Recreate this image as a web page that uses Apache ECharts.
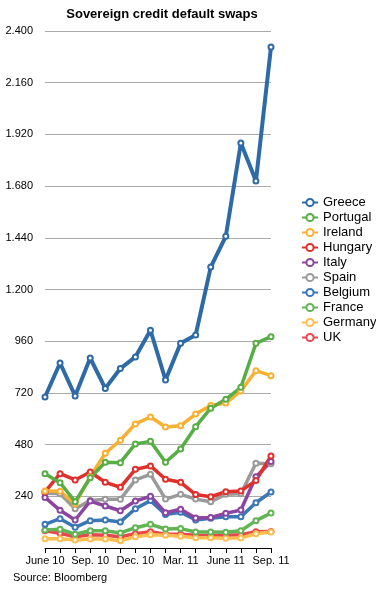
<!DOCTYPE html>
<html>
<head>
<meta charset="utf-8">
<script src="https://cdn.jsdelivr.net/npm/echarts@6/dist/echarts.min.js"></script>
<style>
  html, body { margin: 0; padding: 0; background: #fff; }
  #chart { width: 376px; height: 591px; }
</style>
</head>
<body>
<div id="chart"></div>
<script>
// months June 10 .. Sep. 11
var months = ["June 10", "July 10", "Aug. 10", "Sep. 10", "Oct. 10", "Nov. 10", "Dec. 10", "Jan. 11",
  "Feb. 11", "Mar. 11", "Apr. 11", "May 11", "June 11", "July 11", "Aug. 11", "Sep. 11"];

var greece   = [701, 859, 706, 882, 741, 833, 887, 1011, 780, 950, 989, 1304, 1447, 1880, 1704, 2326];
var portugal = [345, 303, 215, 326, 398, 396, 483, 495, 398, 460, 563, 649, 690, 746, 950, 981];
var ireland  = [265, 263, 204, 331, 440, 500, 576, 608, 562, 568, 622, 661, 673, 729, 823, 800];
var hungary  = [261, 345, 316, 353, 305, 282, 365, 381, 319, 305, 248, 238, 261, 265, 313, 427];
var italy    = [235, 175, 130, 218, 195, 173, 218, 240, 164, 180, 139, 142, 161, 176, 331, 401];
var spain    = [255, 252, 182, 220, 226, 226, 316, 342, 227, 249, 227, 215, 249, 252, 393, 391];
var belgium  = [110, 136, 96, 127, 130, 121, 182, 220, 156, 166, 130, 138, 145, 145, 210, 260];
var france   = [84, 87, 64, 80, 80, 70, 94, 110, 88, 90, 74, 74, 73, 80, 127, 162];
var germany  = [43, 43, 37, 42, 42, 34, 52, 62, 59, 55, 48, 48, 45, 47, 66, 74];
var uk       = [80, 68, 52, 62, 59, 52, 66, 76, 64, 64, 59, 57, 59, 62, 76, 77];

var yTicks = [240, 480, 720, 960, 1200, 1440, 1680, 1920, 2160, 2400];

var font = "'Liberation Sans', Arial, Helvetica, sans-serif";

function mk(name, data, color, width) {
  return {
    name: name,
    type: "line",
    data: data,
    symbol: "emptyCircle",
    symbolSize: 5,
    showAllSymbol: true,
    color: color,
    lineStyle: { width: width || 3.5, color: color },
    itemStyle: { color: color, borderWidth: 1.5 },
    emphasis: { disabled: true }
  };
}

var chart = echarts.init(document.getElementById("chart"));
chart.setOption({
  animation: false,
  backgroundColor: "#fff",
  title: {
    text: "Sovereign credit default swaps",
    left: 157,
    textAlign: "center",
    top: 3,
    textStyle: { fontFamily: font, fontSize: 13, fontWeight: "bold", color: "#000" }
  },
  grid: { left: 45, right: 105, top: 31, bottom: 43 },
  legend: {
    orient: "vertical",
    left: 296,
    top: 191,
    itemWidth: 16,
    itemHeight: 9,
    itemGap: 2,
    textStyle: { fontFamily: font, fontSize: 13, color: "#000" },
    data: ["Greece", "Portugal", "Ireland", "Hungary", "Italy", "Spain", "Belgium", "France", "Germany", "UK"]
  },
  xAxis: {
    type: "category",
    data: months,
    boundaryGap: false,
    axisLine: { lineStyle: { color: "#000", width: 1 } },
    axisTick: { show: true, interval: 0, inside: false, length: 5, lineStyle: { color: "#000" } },
    axisLabel: {
      interval: 2,
      margin: 7,
      fontFamily: font,
      fontSize: 11,
      color: "#000"
    },
    splitLine: { show: false }
  },
  yAxis: {
    type: "value",
    min: 0,
    max: 2400,
    interval: 240,
    axisLine: { show: false },
    axisTick: { show: false },
    axisLabel: {
      margin: 12,
      fontFamily: font,
      fontSize: 11,
      color: "#000",
      formatter: function (v) {
        if (yTicks.indexOf(v) < 0) return "";
        return v >= 1000 ? Math.floor(v / 1000) + "." + String(v % 1000).padStart(3, "0") : String(v);
      }
    },
    splitLine: { lineStyle: { color: "#aaaaaa", width: 1 } }
  },
  series: [
    mk("UK", uk, "#e8484c"),
    mk("Germany", germany, "#fdbd4f"),
    mk("France", france, "#62b455"),
    mk("Belgium", belgium, "#3a77b7"),
    mk("Spain", spain, "#9a9a9a"),
    mk("Italy", italy, "#8c45a0"),
    mk("Hungary", hungary, "#e0302c"),
    mk("Ireland", ireland, "#f8b031"),
    mk("Portugal", portugal, "#57ad46"),
    mk("Greece", greece, "#2d6aa6", 4)
  ],
  graphic: [{
    type: "text",
    left: 13,
    top: 572,
    style: { text: "Source: Bloomberg", font: "11px " + font, fill: "#000" }
  }]
});
</script>
</body>
</html>
